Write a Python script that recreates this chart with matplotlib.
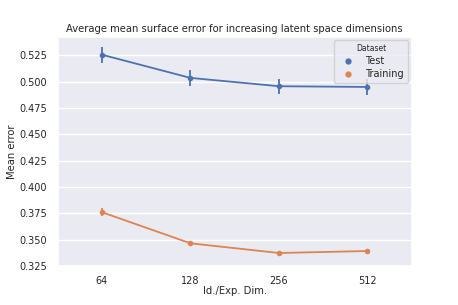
import matplotlib
matplotlib.use("Agg")
import matplotlib.pyplot as plt
import seaborn as sns
from matplotlib.lines import Line2D

# Дані з графіка
dims = ["64", "128", "256", "512"]
test_mean = [0.5255, 0.5035, 0.4956, 0.4949]
test_err = [0.0076, 0.0073, 0.0073, 0.0074]
train_mean = [0.3760, 0.3465, 0.3373, 0.3392]
train_err = [0.0036, 0.0022, 0.0020, 0.0022]

sns.set_theme(style="darkgrid", palette="deep")
plt.rcParams['font.family'] = ['DejaVu Sans']
colors = sns.color_palette("deep")

fig, ax = plt.subplots(figsize=(4.58, 3.05), dpi=100)
fig.subplots_adjust(left=0.126, right=0.899, top=0.88, bottom=0.128)

x = list(range(len(dims)))
ax.errorbar(x, test_mean, yerr=test_err, color=colors[0], marker="o",
            markersize=3, lw=1.3, elinewidth=1.3, capsize=0)
ax.errorbar(x, train_mean, yerr=train_err, color=colors[1], marker="o",
            markersize=3, lw=1.3, elinewidth=1.3, capsize=0)

ax.set_xlim(-0.5, 3.5)
ax.set_ylim(0.325, 0.5427)
ax.set_xticks(x)
ax.set_xticklabels(dims)
ax.set_yticks([0.325, 0.35, 0.375, 0.4, 0.425, 0.45, 0.475, 0.5, 0.525])
ax.tick_params(labelsize=7, pad=1.5)
ax.grid(axis="x", visible=False)
ax.set_xlabel("Id./Exp. Dim.", fontsize=7.2, labelpad=0)
ax.set_ylabel("Mean error", fontsize=7.2, labelpad=2)
ax.set_title("Average mean surface error for increasing latent space dimensions",
             fontsize=7.2, pad=3)

handles = [Line2D([], [], ls="", marker="o", markersize=3.5, color=colors[0]),
           Line2D([], [], ls="", marker="o", markersize=3.5, color=colors[1])]
leg = ax.legend(handles, ["Test", "Training"], title="Dataset", loc="upper right",
                fontsize=7, title_fontsize=5.5, borderaxespad=0.4,
                handletextpad=0.8, borderpad=0.4, labelspacing=0.3)

fig.savefig("out.png", dpi=100)
